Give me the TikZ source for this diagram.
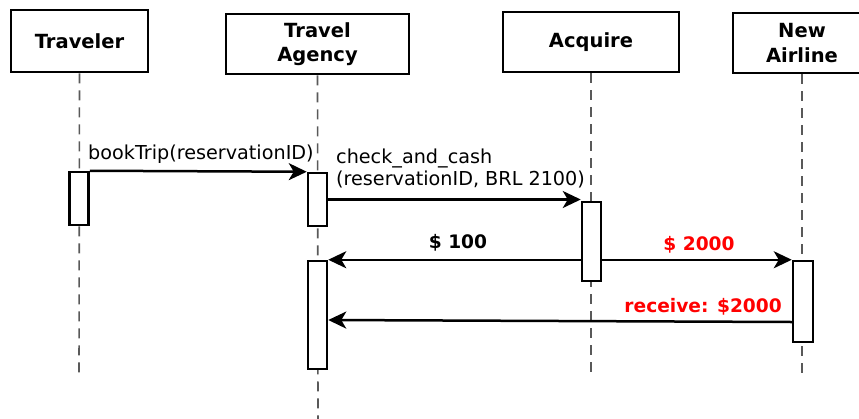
\documentclass[tikz,border=0pt]{standalone}
\usepackage{fontspec}
\setmainfont{DejaVu Sans}
\usetikzlibrary{arrows.meta}
\begin{document}
\begin{tikzpicture}[x=1pt,y=-1pt,
  head/.style={draw, line width=2.5pt, fill=white, font=\fontsize{19.5}{24.5}\bfseries\selectfont, align=center, inner sep=0pt},
  life/.style={draw=black!65, line width=1.6pt, dash pattern=on 10pt off 7pt},
  act/.style={draw, line width=2.5pt, fill=white, minimum width=19pt, inner sep=0pt},
  msg/.style={line width=2.5pt, -{Stealth[length=18pt,width=17pt,inset=5pt]}},
  lbl/.style={font=\fontsize{19.2}{22}\selectfont, inner sep=0pt, align=left},
  blbl/.style={font=\fontsize{18.6}{22}\bfseries\selectfont, inner sep=0pt},
  rlbl/.style={blbl, text=red}
]
\clip (0,0) rectangle (859,418);
\fill[white] (0,0) rectangle (859,418);
% headers
\node[head, minimum width=137pt, minimum height=62pt] (tr) at (79.5,41) {Traveler};
\node[head, minimum width=183pt, minimum height=60pt] (ta) at (317.5,44) {Travel\\Agency};
\node[head, minimum width=176pt, minimum height=60pt] (aq) at (591,42) {Acquire};
\node[head, minimum width=138pt, minimum height=60pt] (na) at (802,43) {New\\Airline};
% lifeline ends
\coordinate (trE) at (79,378);
\coordinate (taE) at (318,420);
\coordinate (aqE) at (591,373);
\coordinate (naE) at (802,373);
\draw[life] (tr.south) -- (trE);
\draw[life] (ta.south) -- (taE);
\draw[life] (aq.south) -- (aqE);
\draw[life] (na.south) -- (naE);
% activations
\node[act, minimum height=53pt] (tr1) at (79,198.5) {};
\node[act, minimum height=53pt] (ta1) at (317.5,199.5) {};
\node[act, minimum height=79pt] (aq1) at (591.5,241.5) {};
\node[act, minimum height=108pt] (ta2) at (317.5,315) {};
\node[act, minimum height=81pt, minimum width=20pt] (na1) at (803,301.5) {};
% messages
\draw[msg] (tr1.north east) -- (ta1.north west);
\draw[msg] (ta1.east) -- (ta1.east -| aq1.west);
\draw[msg] (aq1.west |- ta2.north) -- (ta2.north east);
\draw[msg] (aq1.east |- na1.north) -- (na1.north west);
\draw[msg] ([yshift=-20.5pt]na1.west) -- ([yshift=-5pt]ta2.east);
% labels
\node[lbl, anchor=base west] (lbook) at (88,159) {bookTrip(reservationID)};
\node[lbl, anchor=north west] (lcheck) at (336,149) {check\_and\_cash\\(reservationID, BRL 2100)};
\node[blbl, anchor=base] (l100) at (458,248) {\$ 100};
\node[rlbl, anchor=base] (l2000) at (699,250) {\$ 2000};
\node[rlbl, anchor=base east] (lrec) at (782,312) {receive: \$2000};
\end{tikzpicture}
\end{document}
